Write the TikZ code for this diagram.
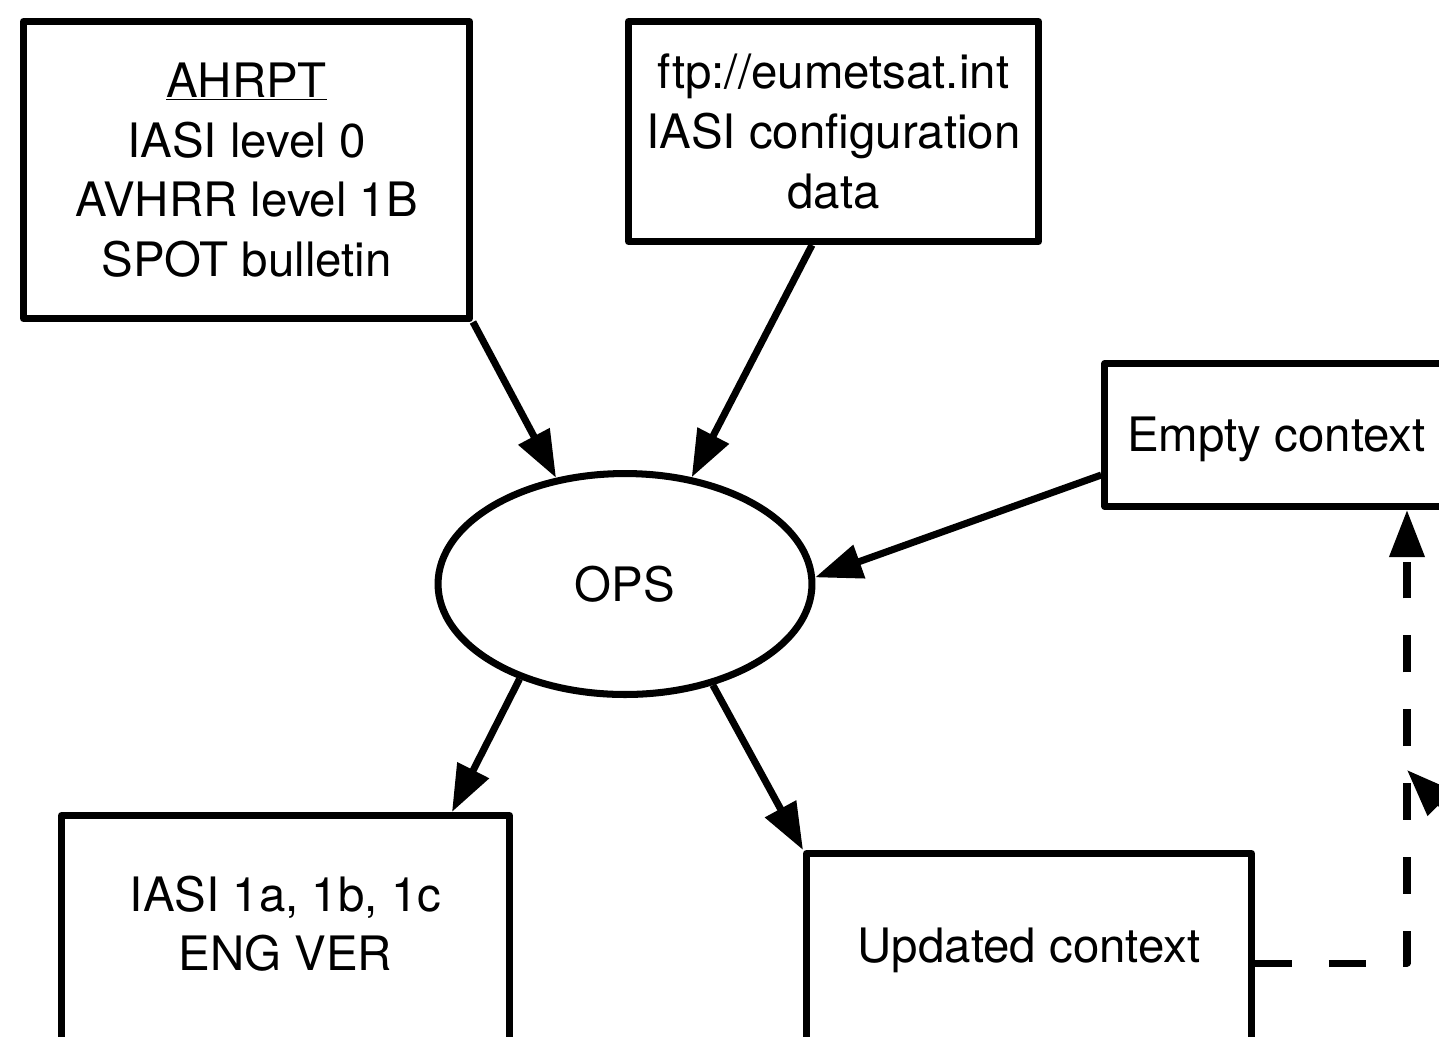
\documentclass[tikz,border=0pt]{standalone}
\usepackage{fontspec}
\setmainfont{TeX Gyre Heros}
\usetikzlibrary{shapes.geometric,arrows.meta}

\begin{document}
\begin{tikzpicture}[x=0.02cm, y=-0.02cm, font=\fontsize{27pt}{34pt}\selectfont, line join=round, line width=4pt,
    >={Triangle[length=0.94cm,width=0.68cm]},
    box/.style={draw, rectangle, align=center, inner sep=0pt},
    dashedarrow/.style={->, dash pattern=on 21pt off 21pt}]
    \useasboundingbox (0,0) rectangle (1439,1036);
    \clip (0,0) rectangle (1439,1036);
    \node[box, minimum width=8.92cm, minimum height=5.94cm] (ahrpt) at (246.5,170) {\underline{AHRPT}\\IASI level 0\\AVHRR level 1B\\SPOT bulletin};
    \node[box, minimum width=8.2cm, minimum height=4.4cm] (ftp) at (833.5,131.5) {ftp://eumetsat.int\\IASI configuration\\data};
    \node[box, minimum width=6.87cm, minimum height=2.86cm, text height=0.9cm, text depth=0.25cm] (empty) at (1276.5,435) {Empty context};
    \node[draw, ellipse, inner sep=0pt, minimum width=7.48cm, minimum height=4.42cm] (ops) at (625,584) {OPS};
    \node[box, minimum width=8.96cm, minimum height=5.5cm] (iasi) at (285.5,953) {IASI 1a, 1b, 1c\\ENG VER\\~};
    \node[box, minimum width=8.9cm, minimum height=3.86cm] (upd) at (1029,950) {Updated context};
    % inputs
    \draw[->] (ahrpt.south east) -- (ops.123);
    \draw[->] ([xshift=-0.43cm]ftp.south) -- (ops.58);
    \draw[->] ([yshift=-0.8cm]empty.west) -- (ops.2);
    % outputs
    \draw[->] (ops.222) -- ([xshift=3.33cm]iasi.north);
    \draw[->] (ops.311) -- (upd.north west);
    \draw[dashedarrow] ([yshift=-0.26cm]upd.east) -| ([xshift=2.61cm]empty.south);
    \coordinate (farin) at (1507,870);
    \coordinate (farhit) at (1407,770);
    \draw[->] (farin) -- (farhit);
\end{tikzpicture}
\end{document}
